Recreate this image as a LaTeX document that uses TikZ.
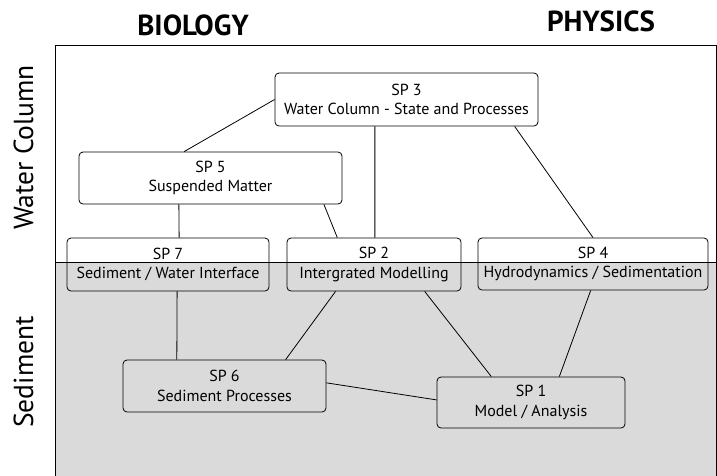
\documentclass[tikz,border=0pt]{standalone}
\usepackage{fontspec}
\setmainfont{PT Sans}
\usetikzlibrary{calc}
\definecolor{sedgray}{RGB}{218,218,218}
\tikzset{
  spbox/.style={draw, line width=0.8pt, rounded corners=4pt, align=center, inner sep=0pt,
    font=\fontsize{16}{19.5}\selectfont},
  link/.style={line width=0.8pt},
  head/.style={font=\fontsize{29}{32}\selectfont\bfseries},
  side/.style={font=\fontsize{27.5}{30}\selectfont, rotate=90}
}
\begin{document}
\begin{tikzpicture}[x=1pt,y=-1pt]
\useasboundingbox (0,0) rectangle (717,475);
\clip (0,0) rectangle (717,475);
\fill[sedgray] (55,262) rectangle (716,480);
\draw[line width=0.8pt] (55,480) -- (55,45) -- (716,45) -- (716,480);
\draw[line width=0.8pt] (55,262) -- (716,262);

\node[head] (bio) at (193,25) {BIOLOGY};
\node[head] (phy) at (601,21) {PHYSICS};
\node[side] (wc) at (23.5,147.5) {Water Column};
\node[side] (sed) at (23.5,372) {Sediment};

\node[spbox, minimum width=263pt, minimum height=53pt] (sp3) at (406.5,99.5) {SP 3\\Water Column - State and Processes};
\node[spbox, minimum width=263pt, minimum height=52pt] (sp5) at (210.5,178) {SP 5\\Suspended Matter};
\node[spbox, minimum width=202pt, minimum height=53pt] (sp7) at (168,264.5) {SP 7\\Sediment / Water Interface};
\node[spbox, minimum width=174pt, minimum height=53pt] (sp2) at (374,264.5) {SP 2\\Intergrated Modelling};
\node[spbox, minimum width=230pt, minimum height=52pt] (sp4) at (593,264) {SP 4\\Hydrodynamics / Sedimentation};
\node[spbox, minimum width=203pt, minimum height=52pt] (sp6) at (224.5,386) {SP 6\\Sediment Processes};
\node[spbox, minimum width=188pt, minimum height=51pt] (sp1) at (531,402.5) {SP 1\\Model / Analysis};

\draw[link] (sp3.west) -- ($(sp5.north west)!0.40!(sp5.north east)$);
\draw[link] ($(sp5.south west)!0.38!(sp5.south east)$) -- ($(sp7.north west)!0.555!(sp7.north east)$);
\draw[link] ($(sp5.south west)!0.93!(sp5.south east)$) -- ($(sp2.north west)!0.29!(sp2.north east)$);
\draw[link] ($(sp3.south west)!0.38!(sp3.south east)$) -- ($(sp2.north west)!0.505!(sp2.north east)$);
\draw[link] ($(sp3.south west)!0.91!(sp3.south east)$) -- (sp4.north);
\draw[link] ($(sp7.south west)!0.545!(sp7.south east)$) -- ($(sp6.north west)!0.266!(sp6.north east)$);
\draw[link] ($(sp2.south west)!0.28!(sp2.south east)$) -- ($(sp6.north west)!0.80!(sp6.north east)$);
\draw[link] ($(sp2.south west)!0.79!(sp2.south east)$) -- ($(sp1.north west)!0.29!(sp1.north east)$);
\draw[link] ($(sp4.south west)!0.49!(sp4.south east)$) -- ($(sp1.north west)!0.65!(sp1.north east)$);
\draw[link] ($(sp6.north east)!0.44!(sp6.south east)$) -- ($(sp1.north west)!0.45!(sp1.south west)$);
\end{tikzpicture}
\end{document}
